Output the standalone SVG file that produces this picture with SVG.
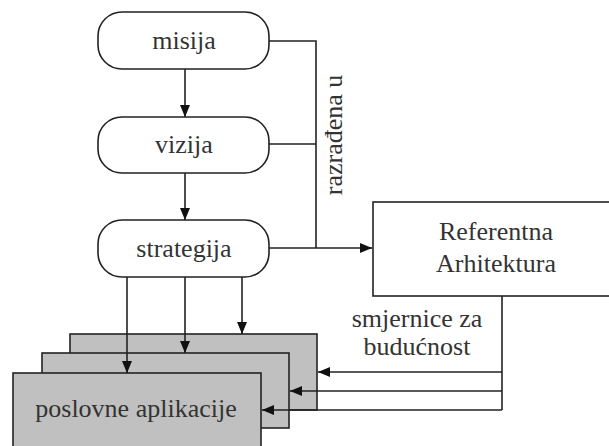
<svg xmlns="http://www.w3.org/2000/svg" width="609" height="446" viewBox="0 0 609 446">
<defs>
<marker id="ah" viewBox="0 0 12 10" refX="12" refY="5" markerWidth="12" markerHeight="10" markerUnits="userSpaceOnUse" orient="auto">
<path d="M0,0 L12,5 L0,10 z" fill="#111"/>
</marker>
<style>
.rb{fill:#fff;stroke:#222;stroke-width:1.6}
.app{fill:#c0c0c0;stroke:#222;stroke-width:1.6}
.t{font-family:'Liberation Serif','DejaVu Serif',serif;font-size:26px;fill:#333;text-anchor:middle}
.c{fill:none;stroke:#222;stroke-width:1.6}
</style>
</defs>
<rect width="609" height="446" fill="#fff"/>
<g id="misija"><rect class="rb" x="98" y="12" width="171" height="57" rx="24"/><text class="t" x="184" y="49">misija</text></g>
<g id="vizija"><rect class="rb" x="98" y="117" width="171" height="56" rx="24"/><text class="t" x="184" y="153">vizija</text></g>
<g id="strategija"><rect class="rb" x="98" y="220" width="171" height="57" rx="24"/><text class="t" x="184" y="257">strategija</text></g>
<g id="referentna"><rect class="rb" x="373" y="202" width="250" height="94"/><text class="t" x="496" y="240">Referentna</text><text class="t" x="496" y="272">Arhitektura</text></g>
<g id="aplikacije">
<rect class="app" x="70" y="334" width="247" height="76"/>
<rect class="app" x="42" y="353" width="247" height="75"/>
<rect class="app" x="13" y="373" width="248" height="80"/>
<text class="t" x="136" y="417">poslovne aplikacije</text>
</g>
<g id="connectors">
<path class="c" d="M185,69 V117" marker-end="url(#ah)"/>
<path class="c" d="M185,173 V220" marker-end="url(#ah)"/>
<path class="c" d="M269,41 H316 V248 M269,144 H316"/>
<path class="c" d="M269,248 H372" marker-end="url(#ah)"/>
<path class="c" d="M127,277 V373" marker-end="url(#ah)"/>
<path class="c" d="M185,277 V353" marker-end="url(#ah)"/>
<path class="c" d="M242,277 V334" marker-end="url(#ah)"/>
<path class="c" d="M502,296 V410"/>
<path class="c" d="M502,372 H318" marker-end="url(#ah)"/>
<path class="c" d="M502,391 H290" marker-end="url(#ah)"/>
<path class="c" d="M502,410 H262" marker-end="url(#ah)"/>
<text class="t" transform="translate(342,135) rotate(-90)">razrađena u</text>
<text class="t" x="417" y="327">smjernice za</text>
<text class="t" x="417" y="355">budućnost</text>
</g>
</svg>
